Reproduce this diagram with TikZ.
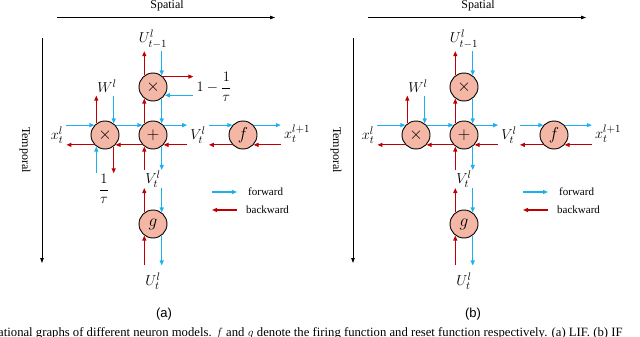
\documentclass[tikz,border=0pt]{standalone}
\usepackage{amsmath}
\usepackage{fontspec}
\setmainfont{Liberation Serif}
\newfontfamily\panelfont{Liberation Sans}
\usetikzlibrary{arrows.meta,calc}
\definecolor{fwdblue}{HTML}{1CB0EE}
\definecolor{bwdred}{HTML}{C00000}
\definecolor{opfill}{HTML}{F4B6A5}
\tikzset{
  op/.style={
    circle, draw=black, line width=0.9pt, fill=opfill,
    minimum size=28pt, inner sep=0pt, font=\fontsize{16}{18}\selectfont
  },
  var/.style={inner sep=3pt, font=\fontsize{15}{18}\selectfont},
  axlabel/.style={inner sep=1pt, font=\fontsize{12}{14}\selectfont},
  legtext/.style={inner sep=1pt, anchor=west, font=\fontsize{11}{13}\selectfont},
  fwd/.style={-{Triangle[length=5pt,width=4pt]}, line width=1.1pt, fwdblue},
  bwd/.style={-{Triangle[length=5pt,width=4pt]}, line width=1.1pt, bwdred},
  axis/.style={-{Triangle[length=5pt,width=3.5pt]}, line width=0.8pt},
}

\begin{document}
\begin{tikzpicture}[x=1pt, y=-1pt]
  \useasboundingbox (0,0) rectangle (640,337);

  \foreach \p/\dx in {a/0,b/311}{
  \begin{scope}[xshift=\dx pt]
    % axes
    \node[axlabel] (\p-spatial) at (167,6) {Spatial};
    \coordinate (\p-sx0) at (57,17.5);
    \coordinate (\p-sx1) at (275,17.5);
    \draw[axis] (\p-sx0) -- (\p-sx1);
    \node[axlabel, rotate=-90] (\p-temporal) at (25,150) {Temporal};
    \coordinate (\p-ty0) at (42,38);
    \coordinate (\p-ty1) at (42,263);
    \draw[axis] (\p-ty0) -- (\p-ty1);

    % operators
    \node[op] (\p-mt)    at (153,87)  {$\times$};
    \node[op] (\p-ml)    at (105,135) {$\times$};
    \node[op] (\p-add)   at (153,135) {$+$};
    \node[op] (\p-fire)  at (243,135) {$f$};
    \node[op] (\p-reset) at (153,224) {$g$};

    % variables
    \node[var] (\p-uprev) at (153,39)  {$U_{t-1}^{l}$};
    \node[var] (\p-wl)    at (107,86)  {$W^{l}$};
    \node[var] (\p-xin)   at (57,135)  {$x_t^{l}$};
    \node[var] (\p-vout)  at (198,135) {$V_t^{l}$};
    \node[var] (\p-xout)  at (297,134) {$x_t^{l+1}$};
    \node[var, inner sep=0.5pt] (\p-vmid) at (153,179) {$V_t^{l}$};
    \node[var, inner ysep=7pt] (\p-ucur) at (153,281) {$U_t^{l}$};

    % forward row
    \draw[fwd] (\p-xin.east |- \p-ml.137) -- (\p-ml.137);
    \draw[fwd] (\p-ml.43) -- (\p-add.137);
    \draw[fwd] (\p-add.43) -- (\p-vout.west |- \p-add.43);
    \draw[fwd] (\p-vout.east |- \p-fire.137) -- (\p-fire.137);
    \draw[fwd] (\p-fire.43) -- (\p-xout.west |- \p-fire.43);
    % backward row
    \draw[bwd] (\p-xout.west |- \p-fire.317) -- (\p-fire.317);
    \draw[bwd] (\p-fire.223) -- (\p-vout.east |- \p-fire.223);
    \draw[bwd] (\p-vout.west |- \p-add.317) -- (\p-add.317);
    \draw[bwd] (\p-add.223) -- (\p-ml.317);
    \draw[bwd] (\p-ml.223) -- (\p-xin.east |- \p-ml.223);

    % column
    \draw[bwd] (\p-mt.127) -- (\p-mt.127 |- \p-uprev.south);
    \draw[fwd] (\p-mt.53 |- \p-uprev.south) -- (\p-mt.53);
    \draw[bwd] (\p-add.127) -- (\p-mt.233);
    \draw[fwd] (\p-mt.307) -- (\p-add.53);
    \draw[bwd] (\p-add.233 |- \p-vmid.north) -- (\p-add.233);
    \draw[fwd] (\p-add.307) -- (\p-add.307 |- \p-vmid.north);
    \draw[bwd] (\p-reset.127) -- (\p-reset.127 |- \p-vmid.south);
    \draw[fwd] (\p-reset.53 |- \p-vmid.south) -- (\p-reset.53);
    \draw[bwd] (\p-reset.233 |- \p-ucur.north) -- (\p-reset.233);
    \draw[fwd] (\p-reset.307) -- (\p-reset.307 |- \p-ucur.north);
    \draw[bwd] (\p-ml.127) -- (\p-ml.127 |- \p-wl.south);
    \draw[fwd] (\p-ml.53 |- \p-wl.south) -- (\p-ml.53);

    % legend
    \node[legtext] (\p-fwdtxt) at (247,192) {forward};
    \node[legtext] (\p-bwdtxt) at (245,210) {backward};
    \draw[fwd] ($(\p-fwdtxt.west)+(-35,0)$) -- ($(\p-fwdtxt.west)+(-10,0)$);
    \draw[bwd] ($(\p-bwdtxt.west)+(-8,0)$) -- ($(\p-bwdtxt.west)+(-33,0)$);
  \end{scope}
  }

  % LIF leak terms
  \node[var] (a-decay) at (214,87) {$1-\dfrac{1}{\tau}$};
  \node[var, inner sep=1pt] (a-inv) at (104,189) {$\dfrac{1}{\tau}$};
  \draw[bwd] (a-mt.46) -- (a-decay.west |- a-mt.46);
  \draw[fwd] (a-decay.west |- a-mt.325) -- (a-mt.325);
  \draw[fwd] (a-ml.233 |- a-inv.north) -- (a-ml.233);
  \draw[bwd] (a-ml.307) -- (a-ml.307 |- a-inv.north);

  \node[font=\panelfont\fontsize{13}{15}\selectfont] (a-tag) at (164,314) {(a)};
  \node[font=\panelfont\fontsize{13}{15}\selectfont] (b-tag) at (473,314) {(b)};

  \node[anchor=base west, inner sep=0pt, font=\fontsize{12.7}{15}\selectfont] (caption) at (-2,336)
    {ational graphs of different neuron models. $f$ and $g$ denote the firing function and reset function respectively. (a) LIF. (b) IF};
\end{tikzpicture}
\end{document}
